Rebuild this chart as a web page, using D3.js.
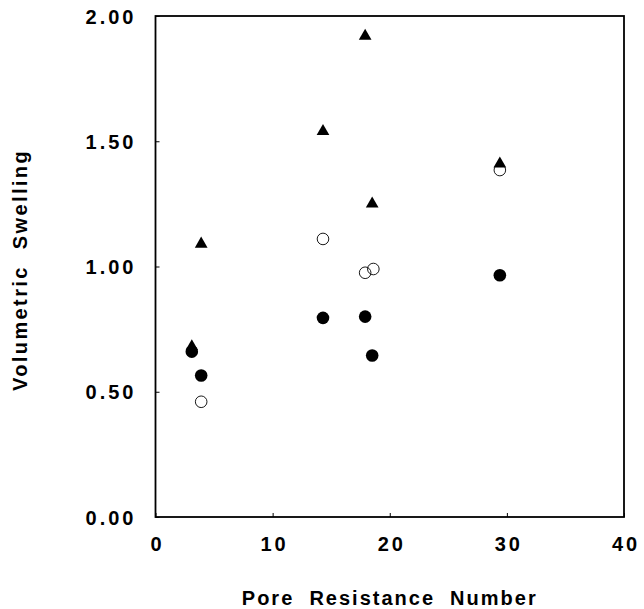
<!DOCTYPE html>
<html>
<head>
<meta charset="utf-8">
<script src="https://cdn.jsdelivr.net/npm/d3@7"></script>
<style>
  html, body { margin: 0; padding: 0; background: #fff; }
  svg { display: block; }
  text { font-family: "Liberation Sans", Arial, sans-serif; font-weight: bold; fill: #000; }
</style>
</head>
<body>
<svg id="chart" width="644" height="609"></svg>
<script>
// Data
const triangleX = [3.1, 3.9, 14.3, 17.9, 18.5, 29.4];
const triangleY = [0.68, 1.09, 1.54, 1.92, 1.25, 1.41];
const filledX   = [3.1, 3.9, 14.3, 17.9, 18.5, 29.4];
const filledY   = [0.66, 0.565, 0.795, 0.80, 0.645, 0.965];
const openX     = [3.9, 14.3, 17.9, 18.6, 29.4];
const openY     = [0.46, 1.11, 0.975, 0.99, 1.385];
const xTicks = [0, 10, 20, 30, 40];
const yTicks = [0, 0.5, 1.0, 1.5, 2.0];
const xTitle = "Pore  Resistance  Number";
const yTitle = "Volumetric  Swelling";

const svg = d3.select("#chart");
const L = 155.5, R = 624, T = 16, B = 517;
const x = d3.scaleLinear().domain([0, 40]).range([L, R]);
const y = d3.scaleLinear().domain([0, 2]).range([B, T]);

// Frame
svg.append("rect")
  .attr("x", L).attr("y", T).attr("width", R - L).attr("height", B - T)
  .attr("fill", "none").attr("stroke", "#000").attr("stroke-width", 1.8);

// Inward ticks
const xAxis = d3.axisBottom(x).tickValues(xTicks).tickSizeInner(-4).tickSizeOuter(0).tickFormat(d => d);
const gx = svg.append("g").attr("transform", `translate(0,${B})`).call(xAxis);
gx.select(".domain").remove();
gx.selectAll(".tick line").attr("stroke", "#000").attr("stroke-width", 1);
gx.selectAll(".tick text")
  .attr("y", 34).attr("dy", 0).attr("dx", 1.5)
  .style("font-size", "20px").style("letter-spacing", "3px")
  .attr("font-family", null).attr("fill", "#000");

const yAxis = d3.axisLeft(y).tickValues(yTicks).tickSizeInner(-4).tickSizeOuter(0).tickFormat(d3.format(".2f"));
const gy = svg.append("g").attr("transform", `translate(${L},0)`).call(yAxis);
gy.select(".domain").remove();
gy.selectAll(".tick line").attr("stroke", "#000").attr("stroke-width", 1);
gy.selectAll(".tick text")
  .attr("x", -19).attr("dy", "0.36em")
  .style("font-size", "20px").style("letter-spacing", "3px")
  .attr("font-family", null).attr("fill", "#000");

// Axis titles
svg.append("text")
  .attr("x", (L + R) / 2).attr("y", 605)
  .attr("text-anchor", "middle")
  .style("font-size", "20px").style("letter-spacing", "2px").style("white-space", "pre")
  .text(xTitle);

svg.append("text")
  .attr("transform", `translate(27,${270}) rotate(-90)`)
  .attr("text-anchor", "middle")
  .style("font-size", "20px").style("letter-spacing", "2.4px").style("white-space", "pre")
  .text(yTitle);

// Marks
const openData = openX.map((v, i) => ({x: v, y: openY[i]}));
const triData = triangleX.map((v, i) => ({x: v, y: triangleY[i]}));
const filledData = filledX.map((v, i) => ({x: v, y: filledY[i]}));

svg.append("g").selectAll("circle").data(openData).join("circle")
  .attr("cx", d => x(d.x)).attr("cy", d => y(d.y)).attr("r", 5.8)
  .attr("fill", "none").attr("stroke", "#000").attr("stroke-width", 0.9);

const tri = d3.symbol().type(d3.symbolTriangle).size(70);
svg.append("g").selectAll("path").data(triData).join("path")
  .attr("transform", d => `translate(${x(d.x)},${y(d.y)})`)
  .attr("d", tri).attr("fill", "#000");

svg.append("g").selectAll("circle").data(filledData).join("circle")
  .attr("cx", d => x(d.x)).attr("cy", d => y(d.y)).attr("r", 6.3)
  .attr("fill", "#000");
</script>
</body>
</html>
